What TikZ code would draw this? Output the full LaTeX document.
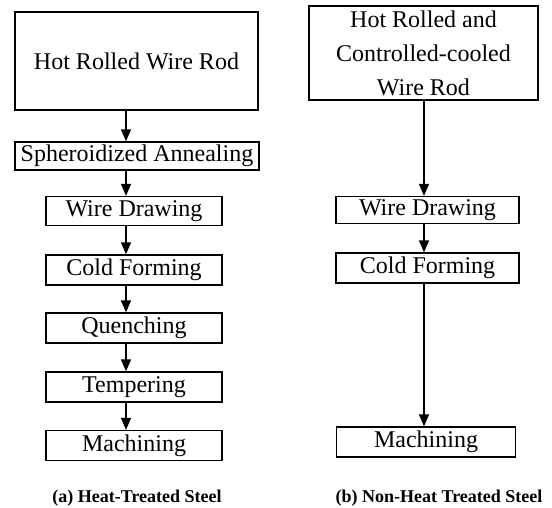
\documentclass[tikz,border=0pt]{standalone}
\usepackage{fontspec}
\setmainfont{Liberation Serif}
\usepackage{tikz}
\usetikzlibrary{arrows.meta}

\tikzset{
	stage/.style={draw, line width=1.3pt, inner sep=0pt, align=center, font=\fontsize{24}{34}\selectfont},
	flow/.style={line width=1.4pt, -{Triangle[length=12pt,width=10pt]}},
	caption/.style={font=\fontsize{18}{20}\selectfont\bfseries}
}

\begin{document}
\begin{tikzpicture}[x=1pt,y=1pt]
			\useasboundingbox (0,0) rectangle (552,-508);
			\coordinate (cola) at (126,0);
			\coordinate (colb) at (424,0);
			% (a) heat-treated route
			\node[stage, minimum width=243, minimum height=98] (hrwr) at (136.5,-61) {Hot Rolled Wire Rod};
			\node[stage, minimum width=244, minimum height=28] (sphan) at (137,-156) {Spheroidized Annealing};
			\node[stage, minimum width=176, minimum height=29] (wdra) at (134,-211) {Wire Drawing};
			\node[stage, minimum width=176, minimum height=30] (cfor) at (134,-270) {Cold Forming};
			\node[stage, minimum width=176, minimum height=30] (quen) at (134,-328) {Quenching};
			\node[stage, minimum width=176, minimum height=30] (temp) at (134,-387) {Tempering};
			\node[stage, minimum width=176, minimum height=30] (mach) at (134,-445.5) {Machining};
			\draw[flow] (hrwr.south -| cola) -- (sphan.north -| cola);
			\draw[flow] (sphan.south -| cola) -- (wdra.north -| cola);
			\draw[flow] (wdra.south -| cola) -- (cfor.north -| cola);
			\draw[flow] (cfor.south -| cola) -- (quen.north -| cola);
			\draw[flow] (quen.south -| cola) -- (temp.north -| cola);
			\draw[flow] (temp.south -| cola) -- (mach.north -| cola);
			\node[caption] (capa) at (137,-498) {(a) Heat-Treated Steel};
			% (b) non-heat treated route
			\node[stage, minimum width=229, minimum height=94] (hrcc) at (423.5,-53) {Hot Rolled and\\Controlled-cooled\\Wire Rod};
			\node[stage, minimum width=183, minimum height=27] (wdrb) at (427.5,-210) {Wire Drawing};
			\node[stage, minimum width=183, minimum height=30] (cforb) at (427.5,-268) {Cold Forming};
			\node[stage, minimum width=179, minimum height=30] (machb) at (426,-442) {Machining};
			\draw[flow] (hrcc.south -| colb) -- (wdrb.north -| colb);
			\draw[flow] (wdrb.south -| colb) -- (cforb.north -| colb);
			\draw[flow] (cforb.south -| colb) -- (machb.north -| colb);
			\node[caption] (capb) at (439,-498) {(b) Non-Heat Treated Steel};
		\end{tikzpicture}
\end{document}
